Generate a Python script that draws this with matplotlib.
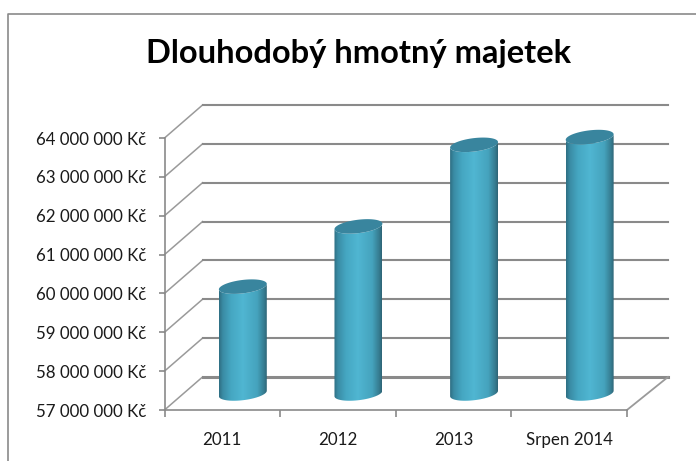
#!/usr/bin/env python
import numpy as np
import matplotlib
matplotlib.use('Agg')
import matplotlib.pyplot as plt
from matplotlib.colors import LinearSegmentedColormap
from matplotlib.lines import Line2D
from matplotlib.patches import Polygon

title = 'Dlouhodobý hmotný majetek'
categories = ['2011', '2012', '2013', 'Srpen 2014']
values = [59750000, 61300000, 63400000, 63600000]
yticks = [57000000, 58000000, 59000000, 60000000, 61000000, 62000000, 63000000, 64000000]
ylabels = ['57 000 000 Kč', '58 000 000 Kč', '59 000 000 Kč', '60 000 000 Kč',
	'61 000 000 Kč', '62 000 000 Kč', '63 000 000 Kč', '64 000 000 Kč']

W, H = 696., 461.
GRID = '#8a8a8a'
# depth of the fake 3d box, in category units and in Kc
depth_x = 0.355
depth_left = 0.329
depth_y = 850000.

plt.rcParams['font.family'] = ['Lato', 'DejaVu Sans']
fig = plt.figure(figsize=(6.96, 4.61), dpi=100)
ax = fig.add_axes([164.5/W, (H-410.)/H, (668-164.5)/W, (410.-105.)/H])
ax.set_facecolor('none')

# outer frame, only top and left are visible
fig.add_artist(Line2D([8/W, 8/W, 1], [0, 1-14.5/H, 1-14.5/H], color=GRID, lw=1.2))

# walls
for v in yticks:
	ax.plot([0, depth_left], [v, v+depth_y], color='#9a9a9a', lw=1.1, zorder=1, clip_on=False)
	lw = 2.2 if v == yticks[0] else 1.5
	ax.plot([depth_left, 4+depth_x], [v+depth_y, v+depth_y], color=GRID, lw=lw, zorder=1, clip_on=False)
ax.plot([4, 4+depth_x], [yticks[0], yticks[0]+depth_y], color='#9a9a9a', lw=1.3, zorder=1, clip_on=False)

# cylinders
shade = LinearSegmentedColormap.from_list('cyl', [(0, '#2f6f83'), (0.08, '#3a8ca5'), (0.25, '#45a7c2'), (0.5, '#50b6d2'),
	(0.8, '#45a3bd'), (0.95, '#357a8e'), (1, '#2f6476')])
grad = np.linspace(0, 1, 128).reshape(1, -1)
r = 0.192
rd = 0.22

def ellipse(cx, v, t):
	# circle on the floor of the box, sheared by the depth direction
	return cx+r*np.cos(t)+rd*depth_x*np.sin(t), v+rd*depth_y*np.sin(t)

for i, val in enumerate(values):
	cx = i+0.5+0.5*depth_x
	base = yticks[0]+0.5*depth_y
	top = val+0.5*depth_y
	t0 = np.arctan2(rd*depth_x, r)
	half = np.linspace(t0+np.pi, t0+2*np.pi, 40)
	bx, by = ellipse(cx, base, half)
	tx, ty = ellipse(cx, top, half[::-1])
	body = Polygon(np.column_stack([np.r_[bx, tx], np.r_[by, ty]]), closed=True, fc='none', ec='none', transform=ax.transData)
	ax.add_patch(body)
	halfw = np.hypot(r, rd*depth_x)
	im = ax.imshow(grad, cmap=shade, aspect='auto', zorder=3, extent=[cx-halfw, cx+halfw, base-rd*depth_y*1.2, top+rd*depth_y*1.2])
	im.set_clip_path(body)
	cap = np.linspace(0, 2*np.pi, 80)
	ex, ey = ellipse(cx, top, cap)
	ax.fill(ex, ey, color='#39859e', zorder=4, lw=0)

ax.set_xlim(0, 4+depth_x)
ax.set_ylim(yticks[0], yticks[-1]+depth_y)

for s in ['top', 'right']:
	ax.spines[s].set_visible(False)
ax.spines['left'].set_bounds(yticks[0], yticks[-1])
ax.spines['bottom'].set_bounds(0, 4)
for s in ['left', 'bottom']:
	ax.spines[s].set_color(GRID)
	ax.spines[s].set_linewidth(1.2)
ax.set_yticks(yticks)
ax.set_yticklabels(ylabels, fontsize=12.2, color='#1a1a1a')
ax.set_xticks(range(5))
ax.set_xticklabels([])
ax.set_xticks(np.arange(4)+0.5, categories, minor=True, fontsize=12.2, color='#1a1a1a')
ax.tick_params(axis='y', length=4, width=1.2, color=GRID, pad=9)
ax.tick_params(axis='x', which='major', length=5, width=1.2, color=GRID)
ax.tick_params(axis='x', which='minor', length=0, pad=16)

fig.text(358/W, 1-54/H, title, fontsize=23.5, fontweight='bold', ha='center', va='center', color='black')

fig.savefig('out.png', dpi=100)
